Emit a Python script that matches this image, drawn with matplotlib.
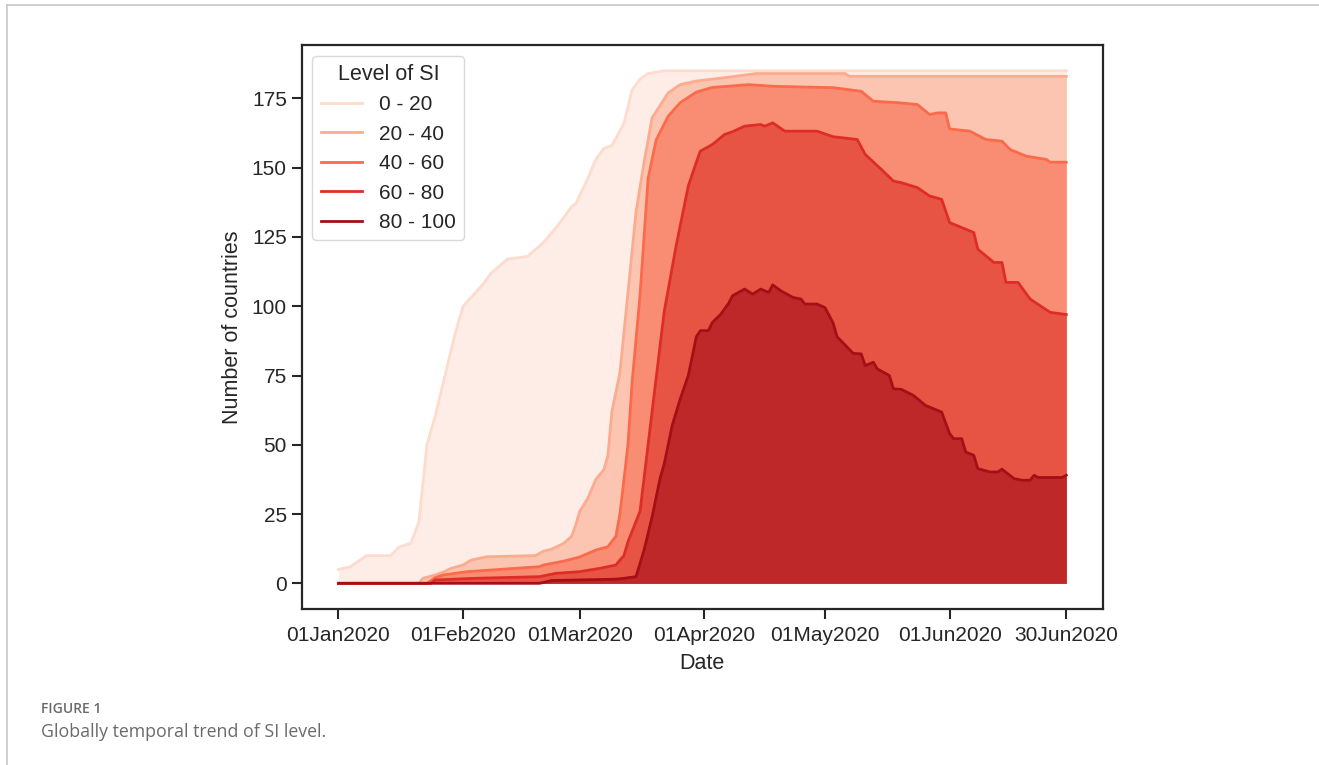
"""Globally temporal trend of SI level: countries per stringency band, Jan-Jun 2020."""

import matplotlib
matplotlib.use("Agg")
import matplotlib.dates as mdates
import matplotlib.pyplot as plt
import pandas as pd
from matplotlib.lines import Line2D

START = pd.Timestamp("2020-01-01")

LEVELS = ["0 - 20", "20 - 40", "40 - 60", "60 - 80", "80 - 100"]

# day offsets from 01Jan2020 and number of countries
days_0_20 = [0, 3, 7, 13, 15, 18, 20, 22, 24, 26, 29, 31, 36, 38, 42, 47, 51, 55,
             58, 59, 61, 62, 64, 66, 68, 71, 73, 75, 77, 81, 181]
vals_0_20 = [5, 6, 10, 10, 13, 14.5, 22, 50, 60, 72, 90, 100, 108, 112, 117, 118,
             123, 130, 136, 137, 143, 146, 153, 157, 158, 166, 178, 182, 184, 185, 185]

days_20_40 = [0, 20, 21, 24, 26, 28, 31, 33, 37, 49, 51, 53, 56, 58, 59, 60, 62, 64,
              66, 67, 68, 70, 72, 74, 76, 78, 82, 85, 89, 96, 104, 126, 127, 181]
vals_20_40 = [0, 0, 1.8, 3, 4, 5.4, 6.6, 8.4, 9.6, 10, 11.6, 12.3, 14.4, 17, 21, 26,
              30.6, 37.5, 41, 46, 62, 76, 105, 134, 152, 168, 177, 180, 181.3, 182.5,
              184, 184, 183, 183]

days_40_60 = [0, 22, 24, 26, 32, 42, 50, 51, 56, 60, 64, 67, 69, 70, 72, 73, 75, 77,
              79, 82, 85, 89, 93, 96, 102, 108, 123, 130, 133, 139, 144, 147, 149,
              151, 152, 157, 161, 165, 167, 171, 176, 177, 181]
vals_40_60 = [0, 0, 2, 3, 4.2, 5.2, 6, 6.6, 8, 9.5, 12, 13.2, 17, 25, 50, 72, 104,
              146, 160, 168.6, 173.5, 177.3, 179, 179.3, 180, 179.4, 178.9, 177.6,
              174, 173.5, 172.8, 169.2, 169.8, 169.8, 164, 163.2, 160.2, 159.6, 156.6,
              154.2, 153, 152, 152]

days_60_80 = [0, 23, 24, 34, 50, 54, 60, 65, 69, 70, 71, 72, 75, 77, 79, 81, 84, 87,
              89, 90, 93, 96, 98, 101, 105, 106, 108, 111, 119, 123, 129, 131, 135,
              138, 140, 144, 147, 150, 152, 155, 158, 159, 163, 165, 166, 169, 172,
              177, 181]
vals_60_80 = [0, 0, 1.2, 1.8, 2.4, 3.6, 4.2, 5.4, 6.6, 8.4, 10, 15, 26, 50, 74, 98,
              122, 143.4, 152, 156, 158.4, 162, 163, 165, 165.6, 165, 166.2, 163.2,
              163.2, 161.2, 160.2, 154.8, 149.4, 145.2, 144.6, 142.8, 139.8, 138.6,
              130.2, 128.4, 126.6, 120.6, 115.8, 115.8, 108.6, 108.6, 102.6, 97.8, 97]

days_80_100 = [0, 50, 53, 69, 71, 74, 76, 78, 80, 81, 83, 85, 87, 89, 90, 92, 93, 95,
               97, 98, 101, 103, 105, 107, 108, 110, 113, 115, 116, 119, 121, 123,
               124, 126, 128, 130, 131, 133, 134, 137, 138, 140, 143, 144, 146, 148,
               150, 152, 153, 155, 156, 158, 159, 162, 164, 165, 168, 170, 172, 173,
               174, 180, 181]
vals_80_100 = [0, 0, 1, 1.5, 1.8, 2.4, 12, 24, 38, 43, 57, 66.6, 75, 89, 91.2, 91.2,
               94.2, 97, 101, 103.8, 106.2, 104.4, 106.2, 105, 107.7, 105.6, 103.2,
               102.6, 100.8, 100.8, 99.5, 94, 89, 86, 83, 82.8, 78.6, 79.8, 77.4, 75,
               70.2, 70, 67.8, 66.6, 64.2, 63, 61.8, 54, 52.2, 52.2, 47.4, 46.2, 41.4,
               40.2, 40.2, 41.2, 37.8, 37.2, 37.2, 39, 38.2, 38.2, 39]

SERIES = [
    (days_0_20, vals_0_20),
    (days_20_40, vals_20_40),
    (days_40_60, vals_40_60),
    (days_60_80, vals_60_80),
    (days_80_100, vals_80_100),
]

FILL_COLORS = ["#fdede6", "#fbc5b1", "#f98d73", "#e85444", "#bf2828"]
LINE_COLORS = ["#fddccd", "#fcab8f", "#fb6a4a", "#de2d26", "#a50f15"]

TICK_DATES = ["2020-01-01", "2020-02-01", "2020-03-01", "2020-04-01",
              "2020-05-01", "2020-06-01", "2020-06-30"]

plt.rcParams["font.family"] = ["Liberation Sans", "DejaVu Sans"]

fig = plt.figure(figsize=(13.19, 7.65), dpi=100)
ax = fig.add_axes([0.229, 0.204, 0.607, 0.737])

for (days, vals), fc, lc, label in zip(SERIES, FILL_COLORS, LINE_COLORS, LEVELS):
    dates = START + pd.to_timedelta(days, unit="D")
    ax.fill_between(dates, 0, vals, color=fc, linewidth=0)
    ax.plot(dates, vals, color=lc, linewidth=2.0, label=label)

ax.set_xlim(START - pd.Timedelta(days=9.05), START + pd.Timedelta(days=190.05))
ax.set_ylim(-9.25, 194.25)
ax.set_yticks([0, 25, 50, 75, 100, 125, 150, 175])
ax.set_xticks(pd.to_datetime(TICK_DATES))
ax.xaxis.set_major_formatter(mdates.DateFormatter("%d%b%Y"))

ax.tick_params(axis="both", labelsize=15, length=7, width=1.5, color="#262626",
               labelcolor="#262626")
ax.tick_params(axis="x", pad=5)
ax.tick_params(axis="y", pad=4)
for spine in ax.spines.values():
    spine.set_linewidth(1.6)
    spine.set_color("#262626")

ax.set_xlabel("Date", fontsize=15.5, color="#262626", labelpad=6)
ax.set_ylabel("Number of countries", fontsize=15.5, color="#262626", labelpad=6)

leg = ax.legend(title="Level of SI", loc="upper left", fontsize=15,
                title_fontsize=15.5, frameon=True, borderaxespad=0.5)
leg.get_frame().set_edgecolor("#d0d0d0")
for txt in leg.get_texts():
    txt.set_color("#262626")
leg.get_title().set_color("#262626")

# journal frame and caption
fig.add_artist(Line2D([0.005, 0.005], [0.0, 0.993], color="#c8c8c8", linewidth=1.2))
fig.add_artist(Line2D([0.005, 1.0], [0.993, 0.993], color="#c8c8c8", linewidth=1.2))
fig.text(0.031, 0.068, "FIGURE 1", fontsize=10, color="#6a6a6a",
         family=["Open Sans", "DejaVu Sans"], fontweight="semibold")
fig.text(0.031, 0.036, "Globally temporal trend of SI level.", fontsize=12.8,
         color="#6a6a6a", family=["Open Sans", "DejaVu Sans"])

fig.savefig("out.png", dpi=100)
plt.close(fig)
